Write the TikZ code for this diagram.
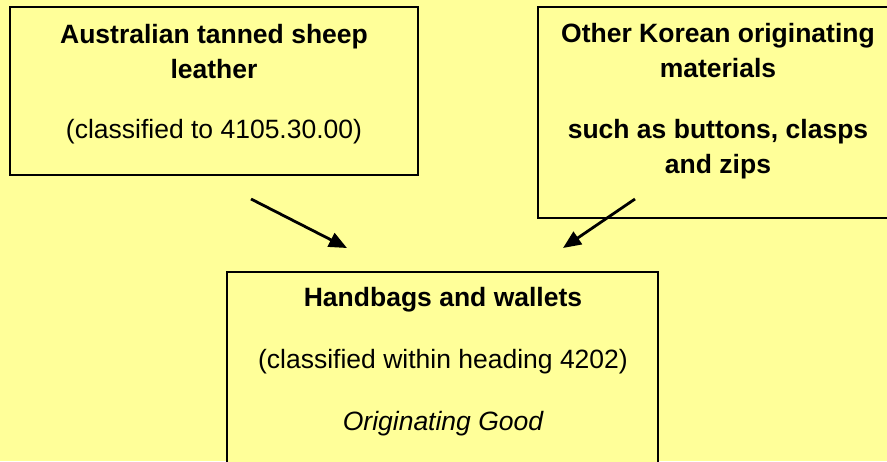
\documentclass[tikz,border=0pt]{standalone}
\usepackage{fontspec}
\setmainfont{Liberation Sans}
\usetikzlibrary{positioning}
\usetikzlibrary{arrows.meta}
\definecolor{paleyellow}{RGB}{255,255,153}
\tikzstyle{box} = [rectangle, draw=black, line width=1.8pt, fill=paleyellow, inner sep=0pt]
\tikzstyle{head} = [inner sep=0pt, anchor=base, font=\fontsize{26.5}{32}\selectfont\bfseries]
\tikzstyle{plain} = [inner sep=0pt, anchor=base, font=\fontsize{26.5}{32}\selectfont]
\tikzstyle{flow} = [->, line width=2.8pt]
\tikzset{>={Triangle[length=18pt, width=15pt]}}

\begin{document}
\begin{tikzpicture}[x=1pt, y=-1pt]
  \useasboundingbox (0,0) rectangle (887,461);
  \clip (0,0) rectangle (887,461);
  \fill[paleyellow] (0,0) rectangle (887,461);

  % boxes
  \node[box, minimum width=408pt, minimum height=168pt] (leather) at (214,91) {};
  \node[box, minimum width=360pt, minimum height=211pt] (korean) at (718,112.5) {};
  \node[box, minimum width=431pt, minimum height=220pt] (bags) at (442.5,382) {};

  \node[head] (leather1) at (214,43) {Australian tanned sheep};
  \node[head] (leather2) at (214,78) {leather};
  \node[plain] (leather3) at (214,138) {(classified to 4105.30.00)};

  \node[head] (korean1) at (718,42) {Other Korean originating};
  \node[head] (korean2) at (718,77) {materials};
  \node[head] (korean3) at (718,138) {such as buttons, clasps};
  \node[head] (korean4) at (718,173) {and zips};

  \node[head] (bags1) at (443,306) {Handbags and wallets};
  \node[plain] (bags2) at (443,368) {(classified within heading 4202)};
  \node[plain, font=\fontsize{26.5}{32}\selectfont\itshape] (bags3) at (443,430) {Originating Good};

  % arrows
  \coordinate (a1) at (251,199);
  \coordinate (b1) at (347,248);
  \coordinate (a2) at (635,199);
  \coordinate (b2) at (563,248);
  \draw[flow] (a1) -- (b1);
  \draw[flow] (a2) -- (b2);
\end{tikzpicture}
\end{document}
